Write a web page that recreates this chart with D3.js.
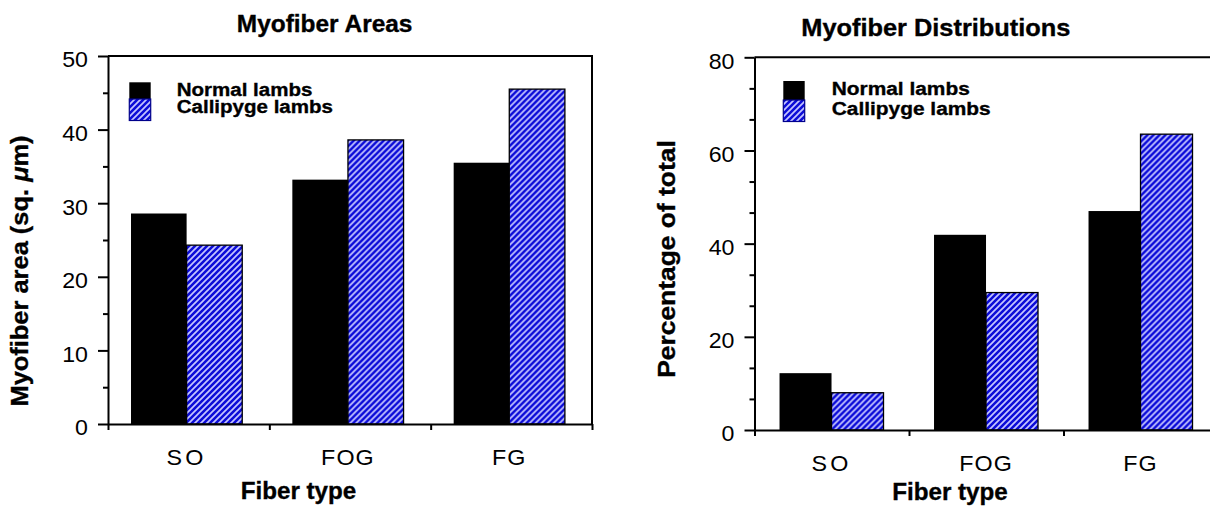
<!DOCTYPE html>
<html><head><meta charset="utf-8">
<script src="https://cdn.jsdelivr.net/npm/d3@7"></script>
<style>
body{margin:0;background:#fff;}
svg text{font-family:"Liberation Sans",Arial,Helvetica,sans-serif;fill:#000;}
svg text.b{font-weight:bold;stroke:#000;stroke-width:0.35px;}
</style></head><body>
<svg id="c" width="1210" height="508"></svg>
<script>
// ---- data ----
const categories = ["SO", "FOG", "FG"];
const seriesNames = ["Normal lambs", "Callipyge lambs"];
const areaNormal = [28.6, 33.2, 35.5];
const areaCallipyge = [24.3, 38.6, 45.5];
const distNormal = [12.2, 41.9, 47.0];
const distCallipyge = [8.0, 29.5, 63.5];
const areaTicks = [0, 10, 20, 30, 40, 50];
const areaMinorTicks = [5, 15, 25, 35, 45];
const distTicks = [0, 20, 40, 60, 80];
const distMinorTicks = [6.67, 13.33, 26.67, 33.33, 46.67, 53.33, 66.67, 73.33];
const titles = ["Myofiber Areas", "Myofiber Distributions"];
const xTitle = "Fiber type";

const svg = d3.select("#c");
const defs = svg.append("defs");
const pat = defs.append("pattern").attr("id", "hatch").attr("patternUnits", "userSpaceOnUse")
  .attr("width", 6).attr("height", 6);
pat.append("rect").attr("width", 6).attr("height", 6).attr("fill", "#0c0cd8");
pat.append("path").attr("d", "M-1.5,1.5 l3,-3 M0,6 l6,-6 M4.5,7.5 l3,-3")
  .attr("stroke", "#c4c4ff").attr("stroke-width", 1.7);

function drawChart(cfg) {
  const { x0, x1, yTop, yBot } = cfg;
  const g = svg.append("g");
  const x = d3.scaleBand().domain(categories).range([x0, x1]);
  const bw = x.bandwidth();
  const xs = d3.scaleBand().domain(seriesNames).range([bw * cfg.gL, bw * cfg.gR]);
  const y = d3.scaleLinear().domain([0, cfg.max]).range([yBot, yTop]);
  const rows = categories.map((c, i) => ({ c, v: [cfg.normal[i], cfg.callipyge[i]] }));

  g.selectAll("g.grp").data(rows).join("g").attr("class", "grp")
    .attr("transform", d => `translate(${x(d.c)},0)`)
    .selectAll("rect").data(d => d.v.map((v, j) => ({ s: seriesNames[j], v }))).join("rect")
    .attr("x", d => xs(d.s)).attr("width", xs.bandwidth())
    .attr("y", d => y(d.v)).attr("height", d => yBot - y(d.v))
    .attr("fill", d => d.s === seriesNames[0] ? "#000" : "url(#hatch)")
    .attr("stroke", d => d.s === seriesNames[0] ? "none" : "#000")
    .attr("stroke-width", 1.3);

  // frame top/right
  g.append("path").attr("d", `M${x0},${yTop}H${x1}V${yBot}`)
    .attr("fill", "none").attr("stroke", "#000").attr("stroke-width", 2);

  // y axis major
  const yAx = g.append("g").attr("transform", `translate(${x0},0)`)
    .call(d3.axisLeft(y).tickValues(cfg.ticks).tickSize(10).tickSizeOuter(0).tickFormat(d3.format("d")));
  yAx.attr("font-family", null).attr("font-size", null);
  yAx.select(".domain").attr("stroke-width", 2);
  yAx.selectAll(".tick line").attr("stroke-width", 2);
  yAx.selectAll(".tick text").attr("x", 0).attr("dy", "0.48em")
    .attr("transform", "translate(-20,0) scale(1.03,1)").style("font-size", "22.5px");

  // y axis minor
  const yMin = g.append("g").attr("transform", `translate(${x0},0)`)
    .call(d3.axisLeft(y).tickValues(cfg.minor).tickSize(5).tickFormat(""));
  yMin.select(".domain").remove();
  yMin.selectAll(".tick line").attr("stroke-width", 2);

  // x axis line with boundary ticks
  const xi = d3.scaleLinear().domain([0, categories.length]).range([x0, x1]);
  const xAx = g.append("g").attr("transform", `translate(0,${yBot})`)
    .call(d3.axisBottom(xi).tickValues(d3.range(categories.length + 1)).tickSize(6).tickSizeOuter(0).tickFormat(""));
  xAx.select(".domain").attr("stroke-width", 2);
  xAx.selectAll(".tick line").attr("stroke-width", 2);

  // x category labels
  const shift = bw * (cfg.gL + cfg.gR) / 2 - bw / 2;
  const xLab = g.append("g").attr("transform", `translate(${shift},${yBot})`)
    .call(d3.axisBottom(x).tickSize(0).tickPadding(0));
  xLab.attr("font-family", null).attr("font-size", null);
  xLab.select(".domain").remove();
  xLab.selectAll(".tick text").attr("y", 0).attr("dy", null)
    .attr("transform", "translate(0,41) scale(1.06,1)")
    .style("font-size", "22px").style("letter-spacing", d => d === "SO" ? "3px" : "1px");

  // legend
  const lg = g.append("g");
  lg.append("rect").attr("x", cfg.lx).attr("y", cfg.ly).attr("width", 21.4).attr("height", cfg.h1).attr("fill", "#000");
  lg.append("rect").attr("x", cfg.lx).attr("y", cfg.ly + cfg.h1).attr("width", 21.4).attr("height", 21.5)
    .attr("fill", "url(#hatch)").attr("stroke", "#00008b").attr("stroke-width", 1.2);
  seriesNames.forEach((s, i) => {
    lg.append("text").attr("class", "b").attr("transform", `translate(${cfg.tx},${cfg.tb[i]}) scale(${cfg.kLeg},1)`)
      .style("font-size", "18.5px").text(s);
  });

  // title
  g.append("text").attr("class", "b").attr("transform", `translate(${cfg.titleX},${cfg.titleY}) scale(${cfg.kTitle},1)`)
    .attr("text-anchor", "middle").style("font-size", "23.5px").text(cfg.title);
  // x title
  g.append("text").attr("class", "b").attr("transform", `translate(${cfg.xtX},${cfg.xtY}) scale(1.03,1)`)
    .attr("text-anchor", "middle").style("font-size", "23.5px").text(xTitle);
  // y title
  const yt = g.append("text").attr("class", "b").attr("transform", `translate(${cfg.ytX},${cfg.ytY}) rotate(-90) scale(${cfg.kY},1)`)
    .attr("text-anchor", "middle").style("font-size", "24px");
  cfg.yTitle(yt);
}

drawChart({
  x0: 108, x1: 592, yTop: 56, yBot: 424, max: 50, gL: 0.1426, gR: 0.832,
  normal: areaNormal, callipyge: areaCallipyge, ticks: areaTicks, minor: areaMinorTicks,
  lx: 129.3, ly: 82.3, h1: 16.7, tx: 176.7, tb: [95.5, 112.5], kLeg: 1.11,
  title: titles[0], titleX: 324.6, titleY: 32, kTitle: 1.04,
  xtX: 298.5, xtY: 499,
  ytX: 28, ytY: 271, kY: 1.06,
  yTitle: t => { t.append("tspan").text("Myofiber area (sq. "); t.append("tspan").style("font-style", "italic").text("\u03bc"); t.append("tspan").text("m)"); }
});

drawChart({
  x0: 754.5, x1: 1218, yTop: 57.3, yBot: 430, max: 80, gL: 0.162, gR: 0.835,
  normal: distNormal, callipyge: distCallipyge, ticks: distTicks, minor: distMinorTicks,
  lx: 783.3, ly: 81, h1: 19, tx: 831.7, tb: [95, 115], kLeg: 1.13,
  title: titles[1], titleX: 935.8, titleY: 36, kTitle: 1.08,
  xtX: 950, xtY: 500,
  ytX: 675, ytY: 259, kY: 1.1,
  yTitle: t => { t.text("Percentage of total"); }
});
</script>
</body></html>
